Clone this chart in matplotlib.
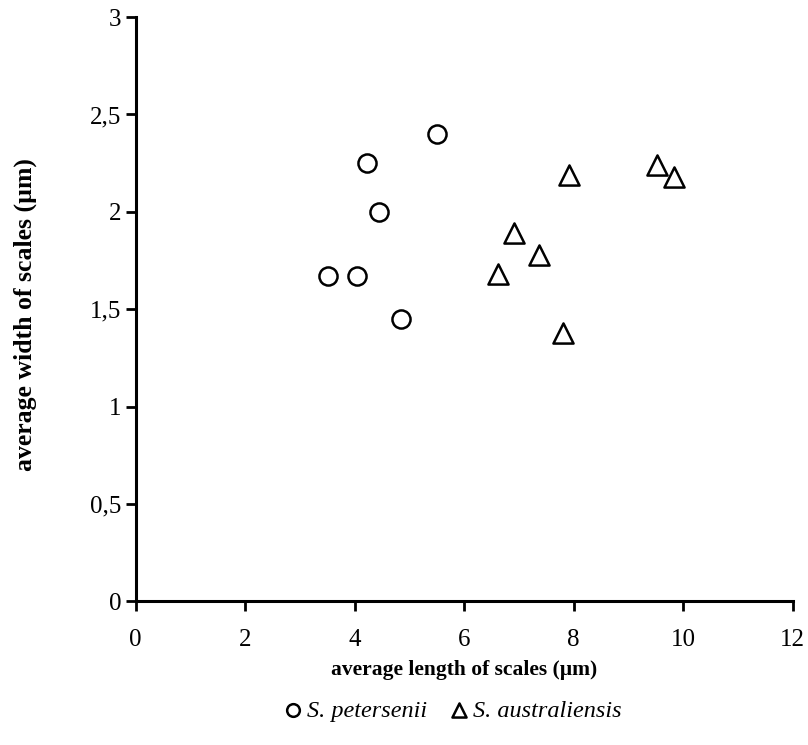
import numpy as np
import matplotlib
matplotlib.use('Agg')
import matplotlib.pyplot as plt
from matplotlib.ticker import FuncFormatter

# S. petersenii (circles)
pet_len = [5.5, 4.23, 4.45, 3.52, 4.05, 4.85]
pet_wid = [2.40, 2.25, 2.00, 1.67, 1.67, 1.45]
# S. australiensis (triangles)
aus_len = [7.91, 9.53, 9.83, 6.91, 7.37, 6.62, 7.81]
aus_wid = [2.19, 2.24, 2.18, 1.89, 1.78, 1.68, 1.38]

x_ticks = [0, 2, 4, 6, 8, 10, 12]
y_ticks = [0, 0.5, 1, 1.5, 2, 2.5, 3]

plt.rcParams['font.family'] = ['Liberation Serif', 'DejaVu Serif']

fig = plt.figure(figsize=(8.08, 7.45), dpi=100)
ax = fig.add_axes([0.168, 0.193, 0.813, 0.784])

ax.scatter(pet_len, pet_wid, marker='o', s=170, facecolors='white',
           edgecolors='black', linewidths=1.8, label='S. petersenii', zorder=3)
ax.scatter(aus_len, aus_wid, marker='^', s=210, facecolors='white',
           edgecolors='black', linewidths=1.8, label='S. australiensis', zorder=3)

ax.set_xlim(0, 12)
ax.set_ylim(0, 3)
ax.set_xticks(x_ticks)
ax.set_yticks(y_ticks)
ax.yaxis.set_major_formatter(FuncFormatter(lambda v, p: ('%g' % v).replace('.', ',')))
ax.tick_params(labelsize=18, width=2, length=7, direction='out')
ax.tick_params(axis='x', pad=13)
ax.spines['top'].set_visible(False)
ax.spines['right'].set_visible(False)
ax.spines['left'].set_linewidth(2.2)
ax.spines['bottom'].set_linewidth(2.2)

ax.set_xlabel('average length of scales (µm)', fontsize=15.5, fontweight='bold')
ax.set_ylabel('average width of scales (µm)', fontsize=18.5, fontweight='bold')
ax.xaxis.set_label_coords(0.5, -0.101, transform=ax.transAxes)
ax.yaxis.set_label_coords(-0.15, 0.49, transform=ax.transAxes)

fig.legend(loc='center', bbox_to_anchor=(0.56, 0.046), ncol=2, frameon=False,
           prop={'style': 'italic', 'size': 17.5}, handletextpad=0.2, handlelength=0.8,
           columnspacing=0.9, markerscale=0.7)

fig.savefig('out.png', dpi=100)
